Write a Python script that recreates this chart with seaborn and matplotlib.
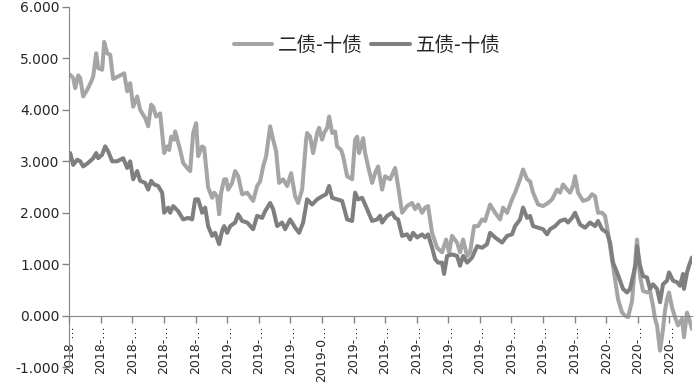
import numpy as np
import pandas as pd
import matplotlib
matplotlib.use("Agg")
import matplotlib.pyplot as plt
import seaborn as sns

# 二债-十债 (交易日序号, 利差)
two_idx = [1, 4, 6, 9, 11, 14, 18, 22, 24, 27, 29, 33, 35, 38, 41, 44, 49, 55, 58, 61,
           64, 68, 71, 76, 79, 82, 84, 87, 91, 95, 98, 100, 102, 105, 106, 111, 114, 118, 121, 124,
           127, 129, 133, 135, 139, 143, 145, 148, 150, 152, 155, 157, 159, 163, 166, 169, 173, 178, 184, 188,
           191, 194, 197, 201, 204, 207, 210, 214, 218, 222, 226, 229, 233, 237, 238, 241, 244, 248, 250, 253,
           255, 258, 260, 263, 266, 268, 272, 274, 278, 283, 286, 288, 290, 294, 296, 299, 303, 306, 309, 313,
           316, 321, 326, 329, 333, 338, 343, 346, 349, 353, 356, 359, 363, 368, 373, 377, 380, 383, 388, 391,
           394, 398, 401, 405, 409, 413, 416, 421, 426, 431, 434, 438, 443, 446, 451, 454, 458, 461, 464, 469,
           474, 479, 483, 488, 491, 494, 498, 501, 504, 506, 509, 514, 519, 523, 526, 529, 533, 536, 539, 543,
           546, 549, 553, 556, 559, 563, 565, 568, 571, 574, 578, 581, 584, 586, 588, 591, 594, 596, 598, 600,
           603, 606, 609, 613, 615, 618, 620, 623]
two_val = [4.68, 4.62, 4.42, 4.67, 4.62, 4.26, 4.39, 4.55, 4.65, 5.10, 4.81, 4.78, 5.32, 5.10, 5.07, 4.60, 4.65, 4.71, 4.36, 4.52,
           4.06, 4.26, 4.00, 3.84, 3.68, 4.10, 4.06, 3.87, 3.93, 3.16, 3.29, 3.22, 3.48, 3.42, 3.58, 3.22, 2.97, 2.87, 2.81, 3.55,
           3.74, 3.10, 3.29, 3.26, 2.49, 2.29, 2.39, 2.32, 1.97, 2.39, 2.65, 2.65, 2.45, 2.58, 2.81, 2.71, 2.36, 2.39, 2.23, 2.52,
           2.61, 2.90, 3.10, 3.68, 3.42, 3.19, 2.58, 2.65, 2.52, 2.77, 2.32, 2.19, 2.45, 3.42, 3.55, 3.48, 3.16, 3.55, 3.65, 3.42,
           3.55, 3.65, 3.87, 3.55, 3.58, 3.29, 3.22, 3.10, 2.71, 2.65, 3.42, 3.48, 3.16, 3.45, 3.16, 2.90, 2.58, 2.77, 2.90, 2.45,
           2.71, 2.65, 2.87, 2.52, 2.00, 2.13, 2.19, 2.07, 2.16, 2.00, 2.10, 2.13, 1.61, 1.32, 1.23, 1.48, 1.23, 1.55, 1.42, 1.23,
           1.48, 1.16, 1.23, 1.74, 1.74, 1.87, 1.84, 2.16, 2.00, 1.87, 2.10, 2.00, 2.26, 2.39, 2.65, 2.84, 2.65, 2.61, 2.39, 2.16,
           2.13, 2.19, 2.26, 2.45, 2.39, 2.55, 2.45, 2.39, 2.52, 2.71, 2.39, 2.23, 2.26, 2.36, 2.32, 2.00, 2.00, 1.94, 1.61, 1.10,
           0.71, 0.32, 0.06, 0.00, -0.03, 0.28, 0.77, 1.48, 0.77, 0.48, 0.45, 0.48, 0.19, -0.06, -0.19, -0.68, -0.26, 0.10, 0.32, 0.45,
           0.16, -0.03, -0.19, -0.06, -0.42, 0.06, -0.06, -0.26]

# 五债-十债
five_idx = [1, 4, 8, 11, 14, 19, 24, 27, 29, 33, 36, 39, 43, 48, 54, 58, 61, 64, 68, 71,
            76, 79, 82, 85, 89, 93, 95, 99, 101, 104, 109, 114, 119, 123, 126, 129, 133, 136, 139, 143,
            146, 150, 153, 155, 158, 161, 166, 169, 173, 178, 184, 188, 193, 196, 201, 204, 208, 213, 216, 221,
            226, 230, 234, 238, 243, 248, 253, 257, 260, 263, 268, 273, 278, 283, 286, 289, 293, 298, 303, 308,
            311, 313, 318, 323, 326, 329, 333, 338, 341, 344, 348, 353, 356, 359, 363, 366, 369, 373, 375, 378,
            383, 388, 391, 394, 398, 403, 408, 413, 418, 421, 426, 433, 438, 443, 446, 451, 454, 458, 461, 464,
            469, 474, 478, 481, 486, 491, 496, 499, 503, 506, 511, 516, 521, 526, 529, 533, 538, 541, 544, 548,
            551, 554, 558, 561, 564, 567, 568, 571, 574, 578, 581, 584, 588, 591, 594, 598, 600, 604, 608, 611,
            614, 615, 618, 620, 623]
five_val = [3.16, 2.93, 3.03, 3.00, 2.90, 2.97, 3.06, 3.16, 3.06, 3.13, 3.29, 3.19, 3.00, 3.00, 3.06, 2.87, 3.00, 2.65, 2.81, 2.62,
            2.58, 2.45, 2.62, 2.55, 2.52, 2.39, 2.00, 2.10, 2.00, 2.13, 2.03, 1.87, 1.90, 1.87, 2.26, 2.26, 2.00, 2.10, 1.74, 1.55,
            1.61, 1.39, 1.65, 1.74, 1.61, 1.74, 1.81, 1.97, 1.84, 1.81, 1.68, 1.94, 1.90, 2.03, 2.19, 2.07, 1.74, 1.81, 1.68, 1.87,
            1.71, 1.61, 1.81, 2.26, 2.16, 2.26, 2.32, 2.36, 2.52, 2.29, 2.26, 2.23, 1.87, 1.84, 2.39, 2.26, 2.29, 2.07, 1.84, 1.87,
            1.94, 1.81, 1.94, 2.00, 1.90, 1.87, 1.55, 1.58, 1.48, 1.61, 1.52, 1.58, 1.52, 1.58, 1.32, 1.10, 1.03, 1.03, 0.81, 1.16,
            1.19, 1.16, 0.97, 1.16, 1.03, 1.13, 1.35, 1.32, 1.39, 1.61, 1.52, 1.42, 1.55, 1.58, 1.74, 1.87, 2.10, 1.90, 1.94, 1.74,
            1.71, 1.68, 1.58, 1.68, 1.74, 1.84, 1.87, 1.81, 1.90, 2.00, 1.77, 1.71, 1.81, 1.74, 1.84, 1.68, 1.61, 1.42, 1.03, 0.84,
            0.68, 0.52, 0.45, 0.52, 0.77, 1.03, 1.35, 0.97, 0.77, 0.74, 0.52, 0.61, 0.52, 0.26, 0.61, 0.68, 0.84, 0.68, 0.65, 0.58,
            0.81, 0.52, 0.84, 0.97, 1.13]

tick_labels = ["2018-…"] * 5 + ["2019-…"] * 3 + ["2019-0…"] + ["2019-…"] * 8 + ["2020-…"] * 3

sns.set_style("white")
plt.rcParams['font.family'] = ['Noto Sans CJK SC', 'DejaVu Sans']

fig = plt.figure(figsize=(6.99, 3.86), dpi=100)
ax = fig.add_axes([0.099, 0.049, 0.891, 0.933])

sns.lineplot(x=two_idx, y=two_val, color='#A5A5A5', lw=2.9, label='二债-十债', ax=ax)
sns.lineplot(x=five_idx, y=five_val, color='#7F7F7F', lw=2.9, label='五债-十债', ax=ax)

# 横轴放在0的位置（要先设置，否则会重置刻度标签）
for s in ['top', 'right']:
    ax.spines[s].set_visible(False)
ax.spines['bottom'].set_position(('data', 0))
ax.spines['bottom'].set_color('#868686')
ax.spines['left'].set_color('#868686')

ax.set_xlim(0, 623)
ax.set_ylim(-1, 6)
ax.set_yticks(np.arange(-1, 7))
ax.set_yticklabels([f"{v:.3f}" for v in np.arange(-1, 7)], family='DejaVu Sans', fontsize=10)
ax.set_xticks(np.arange(20) * 31.6)
ax.set_xticklabels(tick_labels, rotation=90, family='DejaVu Sans', fontsize=9)
ax.tick_params(axis='both', direction='out', length=5, color='#868686', width=1,
               left=True, bottom=True, pad=2)

ax.legend(loc='center', bbox_to_anchor=(0.478, 0.894), ncol=2, frameon=False,
          fontsize=14, handlelength=2.0, columnspacing=0.4, handletextpad=0.3)

fig.savefig('out.png', dpi=100)
